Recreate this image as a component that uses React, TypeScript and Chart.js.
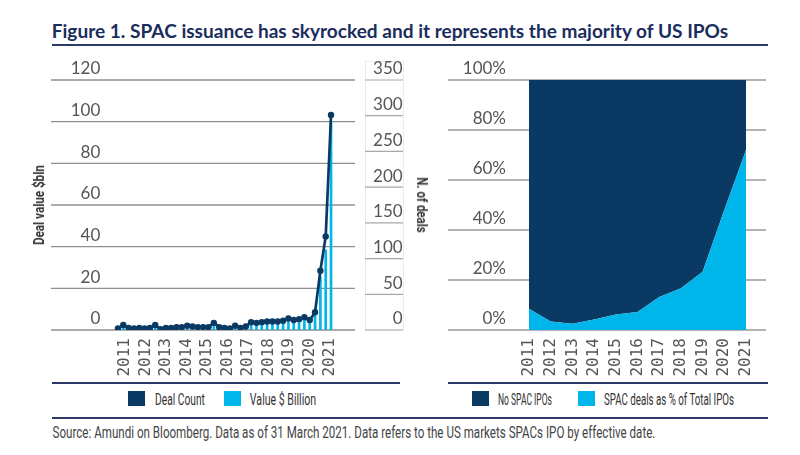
import React, { useEffect, useLayoutEffect, useRef, useState } from "react";
import { Chart, registerables } from "chart.js";

Chart.register(...registerables);

// ---------------- DATA ----------------
const years = [2011, 2012, 2013, 2014, 2015, 2016, 2017, 2018, 2019, 2020, 2021];
const yearLabels = ["2011", "2012", "2013", "2014", "2015", "2016", "2017", "2018", "2019", "2020", "2021"];
const quarterNames = ["Q1", "Q2", "Q3", "Q4"];
// quarterly categories 2011 Q1 .. 2021 Q1 (41 quarters)
const quarterLabels = years.flatMap((y) => quarterNames.map((q) => `${q} ${y}`)).slice(0, 41);

// Deal count (N. of deals, right axis)
const dealCount = [
  2, 7, 3, 2,
  3, 2, 3, 7,
  1, 3, 3, 4,
  4, 6, 5, 4,
  4, 4, 10, 4,
  3, 2, 6, 3,
  5, 11, 10, 11,
  12, 12, 12, 13,
  16, 14, 15, 18,
  14, 25, 83, 131,
  301,
];
// Value $ Billion (left axis)
const dealValue = [
  0.5, 1.2, 0.4, 0.3,
  0.3, 0.2, 0.4, 0.8,
  0.2, 0.5, 0.4, 0.6,
  0.7, 1.0, 0.8, 0.7,
  0.9, 0.8, 2.2, 0.8,
  0.6, 0.4, 1.1, 0.6,
  1.0, 3.0, 2.6, 3.0,
  3.2, 3.0, 3.1, 3.4,
  4.0, 3.6, 3.5, 4.6,
  3.8, 8.0, 25.5, 38.5,
  100,
];

// Share of US IPOs (%)
const spacShare = [8.5, 3.4, 2.5, 4.2, 6.2, 7.2, 13.2, 16.7, 23.3, 48, 72];
const noSpacShare = [91.5, 96.6, 97.5, 95.8, 93.8, 92.8, 86.8, 83.3, 76.7, 52, 28];

const leftTicks = [0, 20, 40, 60, 80, 100, 120];
const rightTicks = [0, 50, 100, 150, 200, 250, 300, 350];
const pctTicks = [0, 20, 40, 60, 80, 100];

// ---------------- STYLE ----------------
const NAVY = "#0a3a63";
const CYAN = "#00b5e9";
const TITLE_NAVY = "#1b2d5c";
const RULE = "#2c3a66";
const TICK = "#555555";
const NARROW = "Roboto, 'Noto Sans', sans-serif";

type GridSpec = { scaleId: string; x1: number; x2: number; color: string; width: number };

const gridPlugin = (id: string, specs: GridSpec[], box?: number[]) => ({
  id,
  beforeDraw(chart: any) {
    const { ctx } = chart;
    ctx.save();
    if (box) {
      ctx.strokeStyle = "#ebebeb";
      ctx.lineWidth = 1;
      ctx.strokeRect(box[0], box[1], box[2], box[3]);
    }
    specs.forEach((s) => {
      const sc = chart.scales[s.scaleId];
      sc.ticks.forEach((t: any) => {
        const y = sc.getPixelForValue(t.value);
        ctx.strokeStyle = s.color;
        ctx.lineWidth = s.width;
        ctx.beginPath();
        ctx.moveTo(s.x1, y);
        ctx.lineTo(s.x2, y);
        ctx.stroke();
      });
    });
    ctx.restore();
  },
});

const noPad = (w: number) => (s: any) => {
  s.width = w;
  s.paddingTop = 0;
  s.paddingBottom = 0;
};

const tickFont = { family: "Lato, 'Open Sans', sans-serif", size: 17 };
const monoFont = { family: "'DejaVu Sans Mono', 'Liberation Mono', monospace", size: 16 };

function LeftChart() {
  const ref = useRef<HTMLCanvasElement>(null);
  useEffect(() => {
    const chart = new Chart(ref.current!, {
      type: "bar",
      data: {
        labels: quarterLabels,
        datasets: [
          {
            type: "line",
            label: "Deal Count",
            data: dealCount,
            xAxisID: "x",
            yAxisID: "yR",
            borderColor: NAVY,
            backgroundColor: NAVY,
            borderWidth: 2.7,
            pointRadius: 3.2,
            pointBackgroundColor: NAVY,
            pointBorderWidth: 0,
            tension: 0,
            order: 0,
          } as any,
          {
            type: "bar",
            label: "Value $ Billion",
            data: dealValue,
            xAxisID: "x",
            yAxisID: "yL",
            backgroundColor: CYAN,
            barThickness: 2,
            order: 1,
          } as any,
        ],
      },
      options: {
        animation: false,
        responsive: false,
        maintainAspectRatio: false,
        layout: { padding: { top: 30, left: 0, right: 37.3, bottom: 0 } },
        plugins: { legend: { display: false }, tooltip: { enabled: false } },
        scales: {
          x: { type: "category", display: false, offset: true, grid: { display: false } },
          xYears: {
            type: "linear",
            position: "bottom",
            offset: false,
            min: 2010.53,
            max: 2021.18,
            afterBuildTicks: (s: any) => {
              s.ticks = years.map((v) => ({ value: v }));
            },
            afterFit: (s: any) => {
              s.height = 55;
            },
            grid: { display: false, drawTicks: false, offset: false },
            border: { display: false },
            ticks: {
              autoSkip: false,
              minRotation: 90,
              maxRotation: 90,
              padding: 8,
              color: TICK,
              font: monoFont,
              callback: (v: any) => String(v),
            },
          },
          yL: {
            type: "linear",
            position: "left",
            min: 0,
            max: 120,
            afterBuildTicks: (s: any) => {
              s.ticks = leftTicks.map((v) => ({ value: v }));
            },
            afterFit: noPad(115.3),
            grid: { display: false, drawTicks: false },
            border: { display: false },
            ticks: { padding: 15, labelOffset: -11, color: TICK, font: tickFont },
          },
          yR: {
            type: "linear",
            position: "right",
            min: 0,
            max: 350,
            afterBuildTicks: (s: any) => {
              s.ticks = rightTicks.map((v) => ({ value: v }));
            },
            afterFit: noPad(69),
            grid: { display: false, drawTicks: false },
            border: { display: false },
            ticks: { padding: 0, crossAlign: "far", labelOffset: -11, color: TICK, font: tickFont },
          },
        },
      } as any,
      plugins: [
        gridPlugin(
          "leftGrid",
          [
            { scaleId: "yL", x1: 51, x2: 355, color: "#8f8f8f", width: 1.4 },
            { scaleId: "yR", x1: 365, x2: 403, color: "#a8a8a8", width: 1.2 },
          ],
          [365.5, 11.5, 38, 268.5]
        ),
      ],
    });
    return () => chart.destroy();
  }, []);
  return (
    <canvas
      ref={ref}
      width={440}
      height={335}
      style={{ position: "absolute", left: 0, top: 50, width: 440, height: 335 }}
    />
  );
}

function RightChart() {
  const ref = useRef<HTMLCanvasElement>(null);
  useEffect(() => {
    const chart = new Chart(ref.current!, {
      type: "line",
      data: {
        labels: yearLabels,
        datasets: [
          {
            label: "SPAC deals as % of Total IPOs",
            data: spacShare,
            fill: "origin",
            backgroundColor: CYAN,
            borderWidth: 0,
            pointRadius: 0,
            tension: 0,
          },
          {
            label: "No SPAC IPOs",
            data: noSpacShare,
            fill: "-1",
            backgroundColor: NAVY,
            borderWidth: 0,
            pointRadius: 0,
            tension: 0,
          },
        ],
      },
      options: {
        animation: false,
        responsive: false,
        maintainAspectRatio: false,
        layout: { padding: { top: 30, left: 0, right: 34, bottom: 0 } },
        plugins: { legend: { display: false }, tooltip: { enabled: false } },
        scales: {
          x: {
            type: "category",
            offset: false,
            afterFit: (s: any) => {
              s.height = 55;
            },
            grid: { display: false, drawTicks: false },
            border: { display: false },
            ticks: {
              autoSkip: false,
              minRotation: 90,
              maxRotation: 90,
              padding: 8,
              color: TICK,
              font: monoFont,
            },
          },
          y: {
            type: "linear",
            stacked: true,
            min: 0,
            max: 100,
            afterBuildTicks: (s: any) => {
              s.ticks = pctTicks.map((v) => ({ value: v }));
            },
            afterFit: noPad(89),
            grid: { display: false, drawTicks: false },
            border: { display: false },
            ticks: {
              padding: 23,
              labelOffset: -11,
              color: TICK,
              font: tickFont,
              callback: (v: any) => `${v}%`,
            },
          },
        },
      } as any,
      plugins: [gridPlugin("rightGrid", [{ scaleId: "y", x1: 8, x2: 326, color: "#9a9a9a", width: 1.4 }])],
    });
    return () => chart.destroy();
  }, []);
  return (
    <canvas
      ref={ref}
      width={340}
      height={335}
      style={{ position: "absolute", left: 440, top: 50, width: 340, height: 335 }}
    />
  );
}

// Text squeezed horizontally to a target width (the original uses a narrow face)
function FitText({
  cx,
  cy,
  width,
  text,
  rotate = 0,
  style,
}: {
  cx: number;
  cy: number;
  width: number;
  text: string;
  rotate?: number;
  style: React.CSSProperties;
}) {
  const ref = useRef<HTMLSpanElement>(null);
  const [k, setK] = useState(1);
  useLayoutEffect(() => {
    const w = ref.current ? ref.current.offsetWidth : 0;
    if (w > 0) setK(width / w);
  }, [text, width]);
  return (
    <span
      ref={ref}
      style={{
        position: "absolute",
        left: cx,
        top: cy,
        whiteSpace: "nowrap",
        lineHeight: 1.2,
        transform: `translate(-50%, -50%) rotate(${rotate}deg) scaleX(${k})`,
        ...style,
      }}
    >
      {text}
    </span>
  );
}

const legendText: React.CSSProperties = { fontFamily: NARROW, fontSize: 17, color: "#333" };

function Swatch({ left, color }: { left: number; color: string }) {
  return (
    <div style={{ position: "absolute", left, top: 391, width: 17, height: 15, background: color }} />
  );
}

export default function App() {
  return (
    <div
      style={{
        position: "absolute",
        left: 0,
        top: 0,
        width: 800,
        height: 455,
        background: "#ffffff",
        overflow: "hidden",
      }}
    >
      <FitText
        cx={52 + 676 / 2}
        cy={31}
        width={676}
        text="Figure 1. SPAC issuance has skyrocked and it represents the majority of US IPOs"
        style={{ fontFamily: "Lato, 'Open Sans', sans-serif", fontWeight: 700, fontSize: 19, color: TITLE_NAVY }}
      />
      <div style={{ position: "absolute", left: 52, top: 44, width: 716, height: 2, background: RULE }} />

      <LeftChart />
      <RightChart />

      <FitText
        cx={39}
        cy={205}
        width={80}
        rotate={-90}
        text="Deal value $bln"
        style={{ fontFamily: NARROW, fontWeight: 700, fontSize: 15, color: "#333" }}
      />
      <FitText
        cx={422}
        cy={205}
        width={55}
        rotate={90}
        text="N. of deals"
        style={{ fontFamily: NARROW, fontWeight: 700, fontSize: 15, color: "#333" }}
      />

      <div style={{ position: "absolute", left: 52, top: 382, width: 348, height: 2, background: RULE }} />
      <div style={{ position: "absolute", left: 448, top: 382, width: 320, height: 2, background: RULE }} />

      <Swatch left={128} color={NAVY} />
      <FitText cx={155 + 25} cy={399} width={50} text="Deal Count" style={legendText} />
      <Swatch left={224} color={CYAN} />
      <FitText cx={250 + 33} cy={399} width={66} text="Value $ Billion" style={legendText} />

      <Swatch left={472} color={NAVY} />
      <FitText cx={498 + 27} cy={399} width={54} text="No SPAC IPOs" style={legendText} />
      <Swatch left={578} color={CYAN} />
      <FitText cx={604 + 65} cy={399} width={130} text="SPAC deals as % of Total IPOs" style={legendText} />

      <div style={{ position: "absolute", left: 52, top: 417, width: 716, height: 2, background: RULE }} />
      <FitText
        cx={52 + 603 / 2}
        cy={433}
        width={603}
        text="Source: Amundi on Bloomberg. Data as of 31 March 2021. Data refers to the US markets SPACs IPO by effective date."
        style={{ fontFamily: NARROW, fontSize: 16, color: "#444" }}
      />
    </div>
  );
}
